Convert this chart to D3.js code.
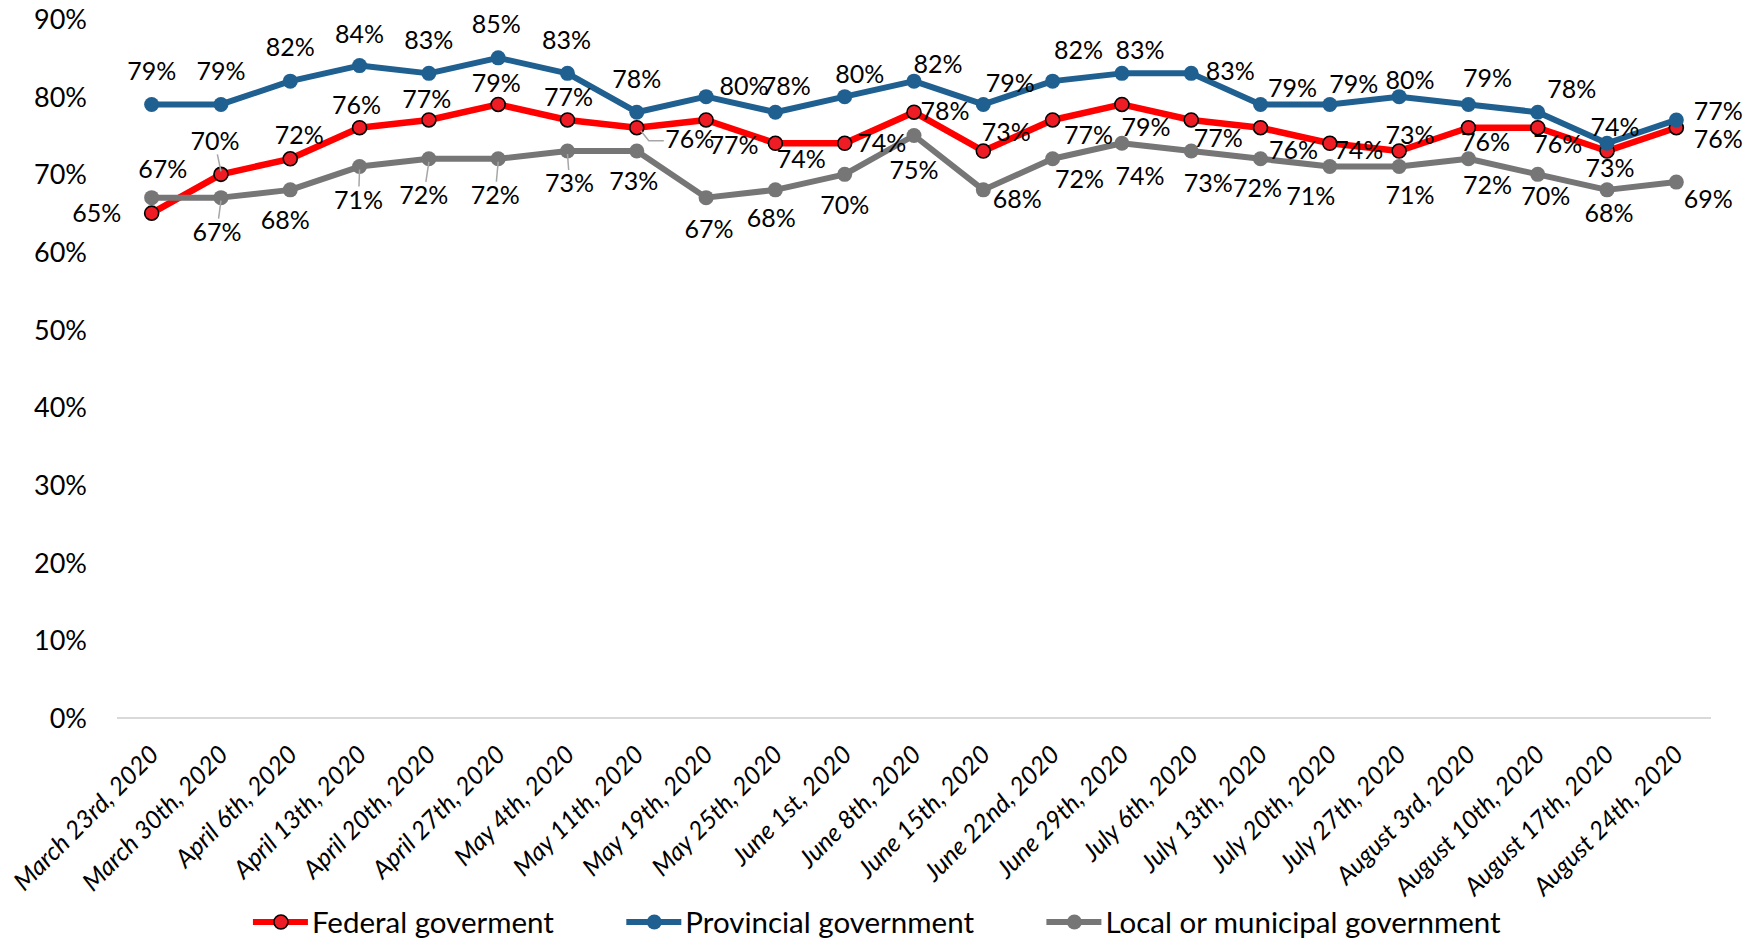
<!DOCTYPE html>
<html>
<head>
<meta charset="utf-8">
<script src="https://cdn.jsdelivr.net/npm/d3@7"></script>
<style>
  body { margin: 0; background: #ffffff; }
  svg { display: block; }
  text { font-family: Lato, "Open Sans", sans-serif; fill: #000; }
</style>
</head>
<body>
<svg id="chart" width="1762" height="939"></svg>
<script>
// Survey weeks
const categories = [
  "March 23rd, 2020", "March 30th, 2020", "April 6th, 2020", "April 13th, 2020",
  "April 20th, 2020", "April 27th, 2020", "May 4th, 2020", "May 11th, 2020",
  "May 19th, 2020", "May 25th, 2020", "June 1st, 2020", "June 8th, 2020",
  "June 15th, 2020", "June 22nd, 2020", "June 29th, 2020", "July 6th, 2020",
  "July 13th, 2020", "July 20th, 2020", "July 27th, 2020", "August 3rd, 2020",
  "August 10th, 2020", "August 17th, 2020", "August 24th, 2020"
];

// Approval (%) for each level of government
const federal    = [65, 70, 72, 76, 77, 79, 77, 76, 77, 74, 74, 78, 73, 77, 79, 77, 76, 74, 73, 76, 76, 73, 76];
const provincial = [79, 79, 82, 84, 83, 85, 83, 78, 80, 78, 80, 82, 79, 82, 83, 83, 79, 79, 80, 79, 78, 74, 77];
const local      = [67, 67, 68, 71, 72, 72, 73, 73, 67, 68, 70, 75, 68, 72, 74, 73, 72, 71, 71, 72, 70, 68, 69];

const seriesNames = ["Federal goverment", "Provincial government", "Local or municipal government"];
const yTicks = [0, 10, 20, 30, 40, 50, 60, 70, 80, 90];

// Data-label placement relative to each marker: [dx, dy]
const federalLabelOffsets = [[-55,0],[-6,-33],[9,-24],[-3,-23],[-2,-21],[-2,-21],[1,-23],[53,11],[28,25],[26,16],[37,0],[31,-1],[23,-19],[36,15],[24,23],[27,18],[33,22],[29,7],[11,-16],[17,14],[20,16],[3,17],[42,11]];
const provincialLabelOffsets = [[0,-33],[0,-33],[0,-34],[0,-32],[0,-33],[-2,-34],[-1,-33],[0,-33],[38,-11],[11,-26],[15,-23],[24,-17],[27,-21],[26,-31],[18,-23],[39,-2],[32,-16],[24,-20],[11,-17],[19,-26],[34,-23],[8,-16],[42,-9]];
const localLabelOffsets = [[11,-29],[-4,34],[-5,30],[-1,33],[-5,36],[-3,36],[2,32],[-3,30],[3,31],[-4,28],[0,31],[0,34],[34,9],[27,20],[18,33],[17,32],[-3,29],[-19,29],[11,28],[19,26],[8,22],[2,23],[32,17]];

// Labels that carry a leader line back to their marker
const federalLeaders = [1, 7];
const localLeaders = [1, 3, 4, 5, 6];

const svg = d3.select("#chart");

const x = d3.scalePoint().domain(categories).range([117, 1711]).padding(0.5);
const y = d3.scaleLinear().domain([0, 90]).range([718, 19]);

// Baseline gridline at 0%
svg.append("line")
  .attr("x1", 117).attr("x2", 1711)
  .attr("y1", y(0)).attr("y2", y(0))
  .attr("stroke", "#d9d9d9").attr("stroke-width", 2);

// Y axis (labels only)
const yAxis = d3.axisLeft(y).tickValues(yTicks).tickFormat(d => d + "%").tickSize(0).tickPadding(0);
const gy = svg.append("g").attr("transform", "translate(87,0)").call(yAxis);
gy.select(".domain").remove();
gy.selectAll("text")
  .style("font-family", "Lato, 'Open Sans', sans-serif")
  .style("font-size", "27px")
  .attr("fill", "#000")
  .attr("dy", "0.35em");

// X axis (rotated italic labels)
const xAxis = d3.axisBottom(x).tickSize(0).tickPadding(0);
const gx = svg.append("g").attr("transform", `translate(0,${y(0)})`).call(xAxis);
gx.select(".domain").remove();
gx.selectAll("text")
  .style("font-family", "Lato, 'Open Sans', sans-serif")
  .style("font-size", "25px")
  .style("font-style", "italic")
  .attr("fill", "#000")
  .attr("text-anchor", "end")
  .attr("dy", null)
  .attr("y", 0)
  .attr("transform", "translate(8,38) rotate(-45)");

const series = [
  { name: seriesNames[0], values: federal, offsets: federalLabelOffsets, leaders: federalLeaders,
    line: "#ff0000", width: 6.5, fill: "#ee1c25", stroke: "#000", r: 7, sw: 1.6 },
  { name: seriesNames[1], values: provincial, offsets: provincialLabelOffsets, leaders: [],
    line: "#1f6091", width: 6, fill: "#1f6091", stroke: "none", r: 7.5, sw: 0 },
  { name: seriesNames[2], values: local, offsets: localLabelOffsets, leaders: localLeaders,
    line: "#767676", width: 6, fill: "#767676", stroke: "none", r: 7.5, sw: 0 }
];

const lineGen = d3.line().x((d, i) => x(categories[i])).y(d => y(d));

const labelFont = 25;

series.forEach(s => {
  const g = svg.append("g");
  g.append("path")
    .datum(s.values)
    .attr("d", lineGen)
    .attr("fill", "none")
    .attr("stroke", s.line)
    .attr("stroke-width", s.width)
    .attr("stroke-linejoin", "round");
  g.selectAll("circle")
    .data(s.values)
    .join("circle")
    .attr("cx", (d, i) => x(categories[i]))
    .attr("cy", d => y(d))
    .attr("r", s.r)
    .attr("fill", s.fill)
    .attr("stroke", s.stroke)
    .attr("stroke-width", s.sw);
});

// Leader lines and data labels drawn above all series
const labelLayer = svg.append("g");
series.forEach(s => {
  s.leaders.forEach(i => {
    const px = x(categories[i]), py = y(s.values[i]);
    const [dx, dy] = s.offsets[i];
    if (Math.abs(dx) > 40) {
      // elbow leader: down-right from the marker, then across to the label
      const ly = py + dy + 2;
      labelLayer.append("polyline")
        .attr("points", `${px + 4},${py + 3} ${px + 12},${ly} ${px + dx - 26},${ly}`)
        .attr("fill", "none").attr("stroke", "#a6a6a6").attr("stroke-width", 1.5);
    } else {
      const sign = dy > 0 ? 1 : -1;
      const endY = py + dy - sign * 13;
      labelLayer.append("line")
        .attr("x1", px).attr("y1", py + sign * 3)
        .attr("x2", px + dx * 0.6).attr("y2", endY)
        .attr("stroke", "#a6a6a6").attr("stroke-width", 1.5);
    }
  });
  labelLayer.append("g")
    .selectAll("text")
    .data(s.values)
    .join("text")
    .attr("x", (d, i) => x(categories[i]) + s.offsets[i][0])
    .attr("y", (d, i) => y(d) + s.offsets[i][1])
    .attr("dy", "0.36em")
    .attr("text-anchor", "middle")
    .style("font-size", labelFont + "px")
    .text(d => d + "%");
});

// Legend, centred under the chart
const legend = svg.append("g").attr("transform", "translate(0,922)");
const items = legend.selectAll("g").data(series).join("g");
items.append("line")
  .attr("x1", 0).attr("x2", 55).attr("y1", 0).attr("y2", 0)
  .attr("stroke", d => d.line).attr("stroke-width", 6);
items.append("circle")
  .attr("cx", 28).attr("cy", 0)
  .attr("r", d => d.r)
  .attr("fill", d => d.fill).attr("stroke", d => d.stroke).attr("stroke-width", d => d.sw);
items.append("text")
  .attr("x", 59).attr("y", 0).attr("dy", "0.36em")
  .style("font-size", "29.5px")
  .text(d => d.name);

const gap = 72;
const widths = [];
items.each(function () { widths.push(this.getBBox().width); });
const total = d3.sum(widths) + gap * (widths.length - 1);
let cursor = 877 - total / 2;
items.attr("transform", (d, i) => {
  const t = `translate(${cursor},0)`;
  cursor += widths[i] + gap;
  return t;
});
</script>
</body>
</html>
